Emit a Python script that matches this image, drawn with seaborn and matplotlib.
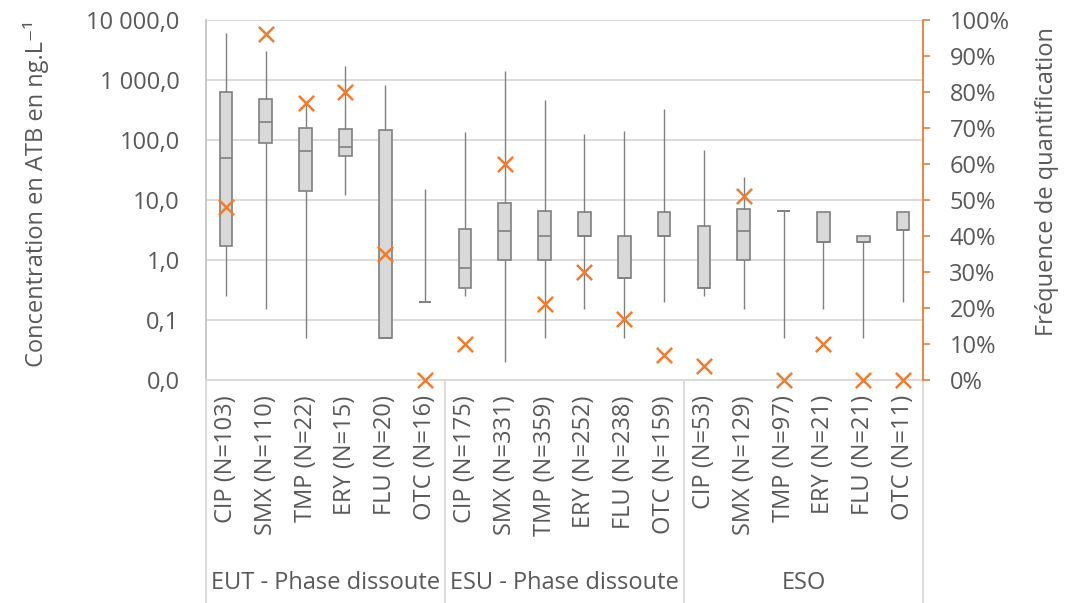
import numpy as np
import pandas as pd
import seaborn as sns
import matplotlib
matplotlib.use("Agg")
import matplotlib.pyplot as plt
import matplotlib.transforms as mtrans
from matplotlib.ticker import NullLocator

# ---------------- data ----------------
drugs = ["CIP", "SMX", "TMP", "ERY", "FLU", "OTC"]
n_eut = [103, 110, 22, 15, 20, 16]
n_esu = [175, 331, 359, 252, 238, 159]
n_eso = [53, 129, 97, 21, 21, 11]
groups = ["EUT - Phase dissoute", "ESU - Phase dissoute", "ESO"]

whisker_low = [0.25, 0.15, 0.05, 12.0, 0.05, 0.2,
               0.25, 0.02, 0.05, 0.15, 0.05, 0.2,
               0.25, 0.15, 0.05, 0.15, 0.05, 0.2]
q1 = [1.7, 90, 14.3, 53.5, 0.05, 0.2,
      0.345, 1.0, 1.0, 2.5, 0.5, 2.5,
      0.345, 1.0, 6.55, 2.0, 2.0, 3.16]
median = [49.5, 200, 66, 75.5, 0.05, 0.2,
          0.745, 3.0, 2.5, 2.5, 0.5, 2.5,
          0.345, 3.0, 6.55, 2.0, 2.0, 3.16]
q3 = [638, 476, 157, 155, 145, 0.2,
      3.24, 8.9, 6.5, 6.24, 2.48, 6.24,
      3.69, 7.0, 6.55, 6.24, 2.48, 6.24]
whisker_high = [6000, 3090, 450, 1700, 815, 15,
                134, 1413, 464, 126, 143, 325,
                68, 24.5, 6.55, 6.24, 2.48, 6.24]
freq_pct = [48, 96, 77, 80, 35, 0,
            10, 60, 21, 30, 17, 7,
            4, 51, 0, 10, 0, 0]

y_ticks = [0.01, 0.1, 1, 10, 100, 1000, 10000]
y_ticklabels = ["0,0", "0,1", "1,0", "10,0", "100,0", "1 000,0", "10 000,0"]
pct_ticks = list(range(0, 101, 10))
pct_ticklabels = [f"{p}%" for p in pct_ticks]

labels = [f"{d} (N={n})" for ns in (n_eut, n_esu, n_eso) for d, n in zip(drugs, ns)]

rows = []
for i, lab in enumerate(labels):
    for v in (whisker_low[i], q1[i], median[i], q3[i], whisker_high[i]):
        rows.append({"label": lab, "value": v})
df = pd.DataFrame(rows)

# ---------------- style ----------------
sns.set_style("white")
plt.rcParams["font.family"] = ["Open Sans", "DejaVu Sans"]
TXT = "#595959"
ORANGE = "#ED7D31"
GRID = "#D9D9D9"
FS = 17

fig = plt.figure(figsize=(10.76, 6.03), dpi=100)
ax = fig.add_axes([206 / 1076, 1 - 380 / 603, (923 - 206) / 1076, 360 / 603])

sns.boxplot(data=df, x="label", y="value", order=labels, log_scale=True,
            whis=(0, 100), width=0.32, color="#D9D9D9", linecolor="#808080",
            linewidth=1.2, saturation=1, showcaps=False, showfliers=False,
            whiskerprops={"linewidth": 1.0}, ax=ax)

ax.set_xlim(-0.5, len(labels) - 0.5)
ax.set_ylim(0.01, 10000)
ax.set_yticks(y_ticks)
ax.set_yticklabels(y_ticklabels)
ax.yaxis.set_minor_locator(NullLocator())
ax.set_axisbelow(True)
ax.yaxis.grid(True, color=GRID, linewidth=1.3)
ax.set_xlabel("")
ax.set_ylabel("")
ax.set_xticks(range(len(labels)))
ax.set_xticklabels(labels, rotation=90, va="top", ha="center")
ax.tick_params(axis="x", length=0, pad=11, labelsize=FS, labelcolor=TXT)
ax.tick_params(axis="y", length=0, pad=19, labelsize=FS, labelcolor=TXT)
for s in ("top", "right"):
    ax.spines[s].set_visible(False)
ax.spines["left"].set_color("#BFBFBF")
ax.spines["bottom"].set_color(GRID)
ax.spines["left"].set_linewidth(1.2)
ax.spines["bottom"].set_linewidth(1.3)

# secondary axis: frequency of quantification
ax2 = ax.twinx()
sns.scatterplot(x=np.arange(len(labels)), y=freq_pct, marker="x", s=120,
                color=ORANGE, linewidth=1.8, ax=ax2, clip_on=False, zorder=5,
                legend=False)
ax2.set_ylim(0, 100)
ax2.set_xlim(-0.5, len(labels) - 0.5)
ax2.set_yticks(pct_ticks)
ax2.set_yticklabels(pct_ticklabels)
ax2.tick_params(axis="y", length=5, width=1.2, color=ORANGE, direction="out",
                pad=14, labelsize=FS, labelcolor=TXT)
for s in ("top", "left", "bottom"):
    ax2.spines[s].set_visible(False)
ax2.spines["right"].set_color(ORANGE)
ax2.spines["right"].set_linewidth(1.3)
ax2.set_ylabel("")

# multi-level category axis
trans = mtrans.blended_transform_factory(ax.transData, ax.transAxes)
for xv in (-0.5, 5.5, 11.5, 17.5):
    ax.plot([xv, xv], [0, -0.625], transform=trans, color=GRID, lw=1.3,
            clip_on=False)
for gi, g in enumerate(groups):
    ax.text(gi * 6 + 2.5, -0.565, g, transform=trans, ha="center",
            va="center", fontsize=FS, color=TXT)

fig.text(36 / 1076, 1 - 194 / 603, "Concentration en ATB en ng.L\u207b\u00b9",
         rotation=90, ha="center", va="center", fontsize=FS, color=TXT)
fig.text(1047 / 1076, 1 - 182 / 603, "Fréquence de quantification",
         rotation=90, ha="center", va="center", fontsize=FS, color=TXT)

fig.savefig("out.png", dpi=100)
